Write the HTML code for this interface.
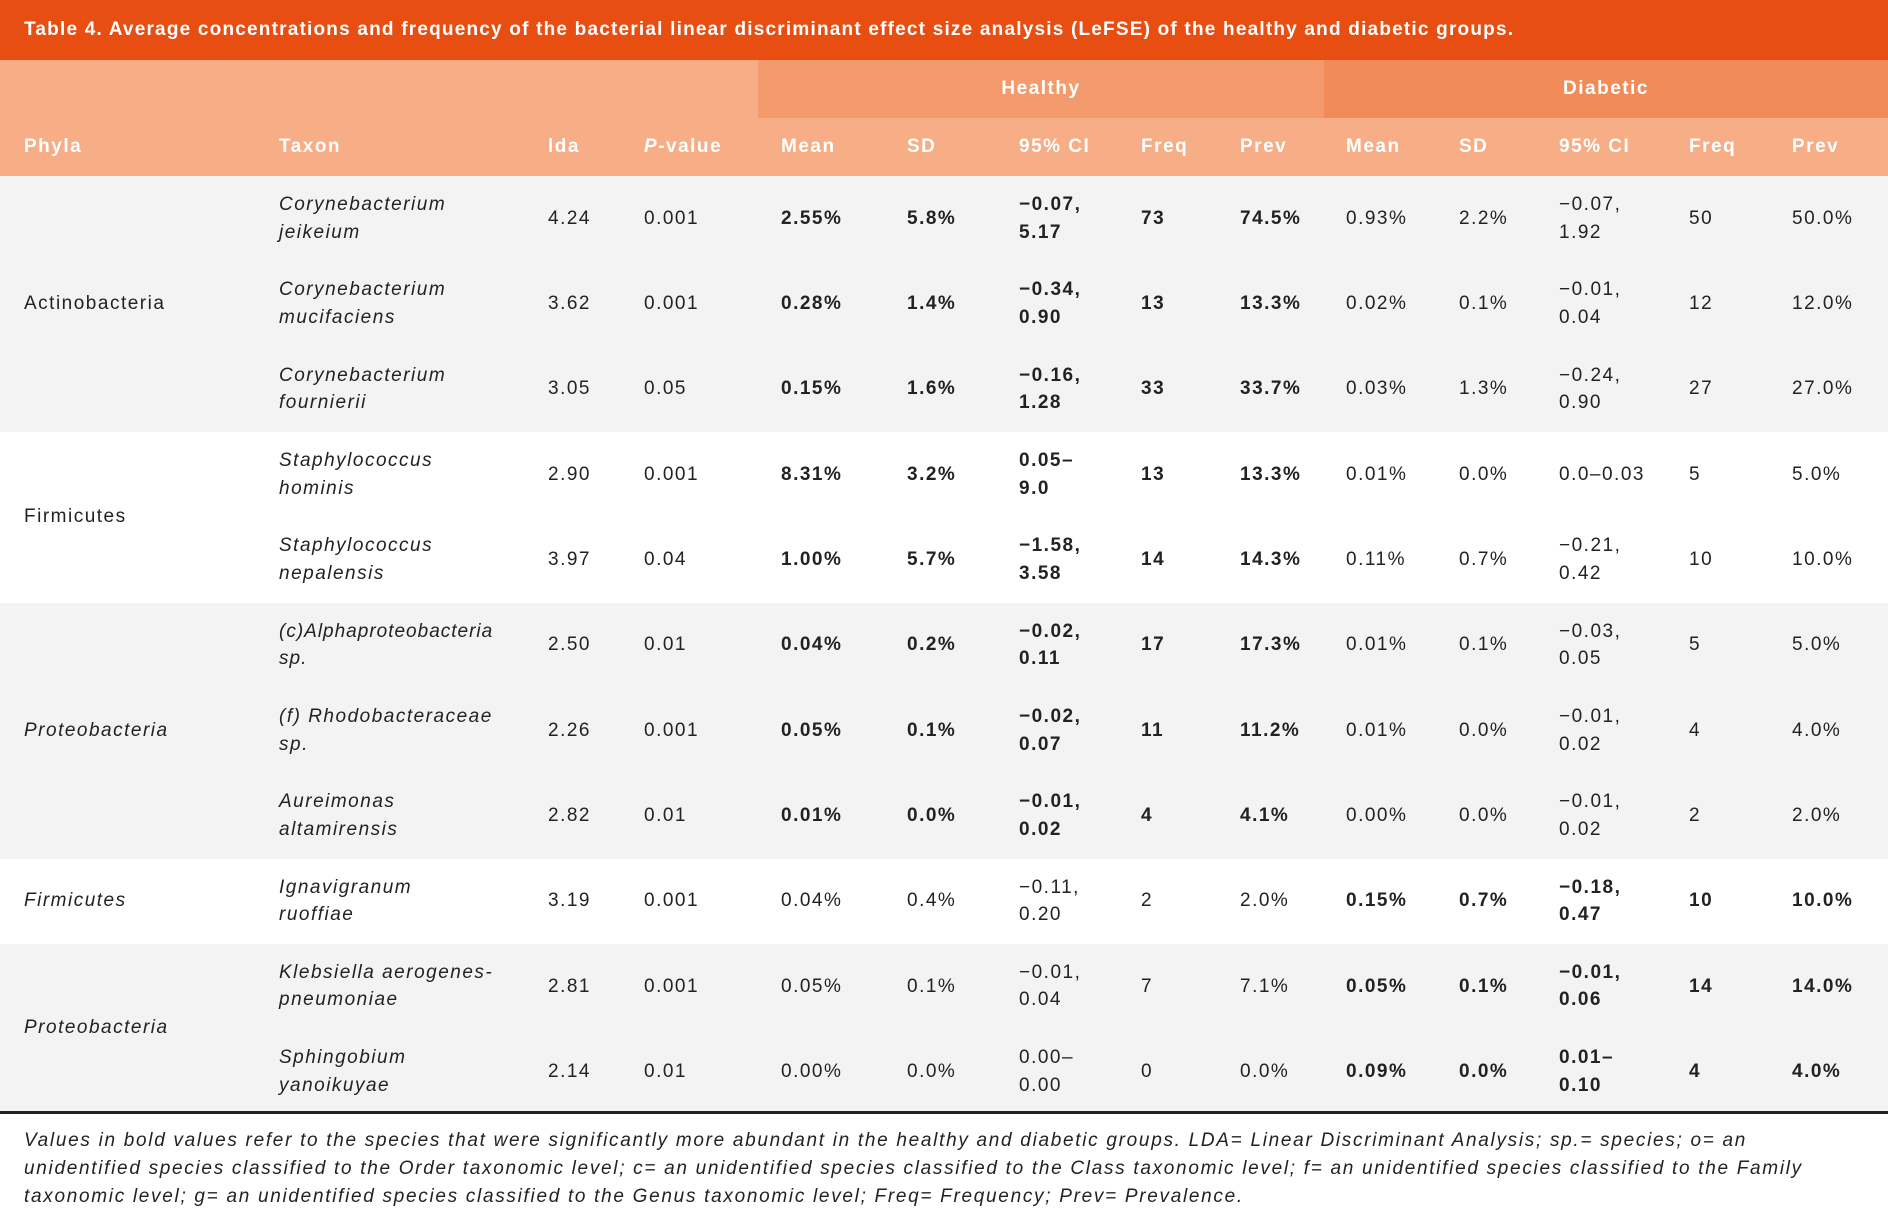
<!DOCTYPE html>
<html><head><meta charset="utf-8"><style>
*{margin:0;padding:0;box-sizing:border-box}
body{width:1888px;height:1232px;background:#fff;position:relative;overflow:hidden;font-family:"Liberation Sans",sans-serif;color:#222}
.title{position:absolute;left:0;top:0;width:1888px;height:60px;background:#e84e12;color:#fff;font-weight:bold;font-size:19px;line-height:60px;padding-left:24px;letter-spacing:1.2px;white-space:nowrap}
.h1{position:absolute;top:60px;height:116px;left:0;width:1888px;background:#f7ad85}
.hh{position:absolute;top:60px;height:58px;left:758px;width:566px;background:#f39b6c;color:#fff;font-size:19px;font-weight:bold;text-align:center;line-height:58px;letter-spacing:1.5px}
.hd{position:absolute;top:60px;height:58px;left:1324px;width:564px;background:#f18c58;color:#fff;font-size:19px;font-weight:bold;text-align:center;line-height:58px;letter-spacing:1.5px}
.hrow{position:absolute;top:118px;height:58px;left:0;width:1888px}
.hrow span{position:absolute;top:0;line-height:58px;color:#fff;font-size:19px;font-weight:bold;letter-spacing:1.5px}
.row{position:absolute;left:0;width:1888px;height:85.3px}
.c{position:absolute;top:0;height:100%;display:flex;align-items:center;font-size:19px;line-height:27.5px;letter-spacing:1.5px;white-space:nowrap}
.g{background:#f3f3f3}
.b{font-weight:bold}
.i{font-style:italic}
.ph{position:absolute;left:24px;font-size:19px;display:flex;align-items:center;letter-spacing:1.5px}
.line{position:absolute;left:0;top:1111px;width:1888px;height:3px;background:#222}
.foot{position:absolute;left:24px;top:1127px;width:1860px;font-style:italic;font-size:19px;line-height:28px;color:#222;letter-spacing:1.7px;white-space:nowrap}
</style></head><body>
<div class="title">Table 4. Average concentrations and frequency of the bacterial linear discriminant effect size analysis (LeFSE) of the healthy and diabetic groups.</div>
<div class="h1"></div>
<div class="hh">Healthy</div>
<div class="hd">Diabetic</div>
<div class="hrow">
<span style="left:24px">Phyla</span><span style="left:279px">Taxon</span><span style="left:548px">lda</span><span style="left:644px"><i>P</i>-value</span>
<span style="left:781px">Mean</span><span style="left:907px">SD</span><span style="left:1019px">95% CI</span><span style="left:1141px">Freq</span><span style="left:1240px">Prev</span>
<span style="left:1346px">Mean</span><span style="left:1459px">SD</span><span style="left:1559px">95% CI</span><span style="left:1689px">Freq</span><span style="left:1792px">Prev</span>
</div>

<div class="g" style="position:absolute;left:0;top:176px;width:1888px;height:256px"></div>
<div class="g" style="position:absolute;left:0;top:602.5px;width:1888px;height:256px"></div>
<div class="g" style="position:absolute;left:0;top:944px;width:1888px;height:167px"></div>

<div class="ph" style="top:176px;height:256px">Actinobacteria</div>
<div class="ph" style="top:432px;height:170.5px">Firmicutes</div>
<div class="ph i" style="top:602.5px;height:256px">Proteobacteria</div>
<div class="ph i" style="top:858.5px;height:85.3px">Firmicutes</div>
<div class="ph i" style="top:944px;height:167px">Proteobacteria</div>

<div class="row" style="top:176px">
<div class="c i" style="left:279px">Corynebacterium<br>jeikeium</div><div class="c" style="left:548px">4.24</div><div class="c" style="left:644px">0.001</div>
<div class="c b" style="left:781px">2.55%</div><div class="c b" style="left:907px">5.8%</div><div class="c b" style="left:1019px">−0.07,<br>5.17</div><div class="c b" style="left:1141px">73</div><div class="c b" style="left:1240px">74.5%</div>
<div class="c" style="left:1346px">0.93%</div><div class="c" style="left:1459px">2.2%</div><div class="c" style="left:1559px">−0.07,<br>1.92</div><div class="c" style="left:1689px">50</div><div class="c" style="left:1792px">50.0%</div></div>

<div class="row" style="top:261.3px">
<div class="c i" style="left:279px">Corynebacterium<br>mucifaciens</div><div class="c" style="left:548px">3.62</div><div class="c" style="left:644px">0.001</div>
<div class="c b" style="left:781px">0.28%</div><div class="c b" style="left:907px">1.4%</div><div class="c b" style="left:1019px">−0.34,<br>0.90</div><div class="c b" style="left:1141px">13</div><div class="c b" style="left:1240px">13.3%</div>
<div class="c" style="left:1346px">0.02%</div><div class="c" style="left:1459px">0.1%</div><div class="c" style="left:1559px">−0.01,<br>0.04</div><div class="c" style="left:1689px">12</div><div class="c" style="left:1792px">12.0%</div></div>

<div class="row" style="top:346.6px">
<div class="c i" style="left:279px">Corynebacterium<br>fournierii</div><div class="c" style="left:548px">3.05</div><div class="c" style="left:644px">0.05</div>
<div class="c b" style="left:781px">0.15%</div><div class="c b" style="left:907px">1.6%</div><div class="c b" style="left:1019px">−0.16,<br>1.28</div><div class="c b" style="left:1141px">33</div><div class="c b" style="left:1240px">33.7%</div>
<div class="c" style="left:1346px">0.03%</div><div class="c" style="left:1459px">1.3%</div><div class="c" style="left:1559px">−0.24,<br>0.90</div><div class="c" style="left:1689px">27</div><div class="c" style="left:1792px">27.0%</div></div>

<div class="row" style="top:432px">
<div class="c i" style="left:279px">Staphylococcus<br>hominis</div><div class="c" style="left:548px">2.90</div><div class="c" style="left:644px">0.001</div>
<div class="c b" style="left:781px">8.31%</div><div class="c b" style="left:907px">3.2%</div><div class="c b" style="left:1019px">0.05–<br>9.0</div><div class="c b" style="left:1141px">13</div><div class="c b" style="left:1240px">13.3%</div>
<div class="c" style="left:1346px">0.01%</div><div class="c" style="left:1459px">0.0%</div><div class="c" style="left:1559px">0.0–0.03</div><div class="c" style="left:1689px">5</div><div class="c" style="left:1792px">5.0%</div></div>

<div class="row" style="top:517.3px">
<div class="c i" style="left:279px">Staphylococcus<br>nepalensis</div><div class="c" style="left:548px">3.97</div><div class="c" style="left:644px">0.04</div>
<div class="c b" style="left:781px">1.00%</div><div class="c b" style="left:907px">5.7%</div><div class="c b" style="left:1019px">−1.58,<br>3.58</div><div class="c b" style="left:1141px">14</div><div class="c b" style="left:1240px">14.3%</div>
<div class="c" style="left:1346px">0.11%</div><div class="c" style="left:1459px">0.7%</div><div class="c" style="left:1559px">−0.21,<br>0.42</div><div class="c" style="left:1689px">10</div><div class="c" style="left:1792px">10.0%</div></div>

<div class="row" style="top:602.6px">
<div class="c i" style="left:279px;letter-spacing:1px">(c)Alphaproteobacteria<br>sp.</div><div class="c" style="left:548px">2.50</div><div class="c" style="left:644px">0.01</div>
<div class="c b" style="left:781px">0.04%</div><div class="c b" style="left:907px">0.2%</div><div class="c b" style="left:1019px">−0.02,<br>0.11</div><div class="c b" style="left:1141px">17</div><div class="c b" style="left:1240px">17.3%</div>
<div class="c" style="left:1346px">0.01%</div><div class="c" style="left:1459px">0.1%</div><div class="c" style="left:1559px">−0.03,<br>0.05</div><div class="c" style="left:1689px">5</div><div class="c" style="left:1792px">5.0%</div></div>

<div class="row" style="top:687.9px">
<div class="c i" style="left:279px">(f) Rhodobacteraceae<br>sp.</div><div class="c" style="left:548px">2.26</div><div class="c" style="left:644px">0.001</div>
<div class="c b" style="left:781px">0.05%</div><div class="c b" style="left:907px">0.1%</div><div class="c b" style="left:1019px">−0.02,<br>0.07</div><div class="c b" style="left:1141px">11</div><div class="c b" style="left:1240px">11.2%</div>
<div class="c" style="left:1346px">0.01%</div><div class="c" style="left:1459px">0.0%</div><div class="c" style="left:1559px">−0.01,<br>0.02</div><div class="c" style="left:1689px">4</div><div class="c" style="left:1792px">4.0%</div></div>

<div class="row" style="top:773.2px">
<div class="c i" style="left:279px">Aureimonas<br>altamirensis</div><div class="c" style="left:548px">2.82</div><div class="c" style="left:644px">0.01</div>
<div class="c b" style="left:781px">0.01%</div><div class="c b" style="left:907px">0.0%</div><div class="c b" style="left:1019px">−0.01,<br>0.02</div><div class="c b" style="left:1141px">4</div><div class="c b" style="left:1240px">4.1%</div>
<div class="c" style="left:1346px">0.00%</div><div class="c" style="left:1459px">0.0%</div><div class="c" style="left:1559px">−0.01,<br>0.02</div><div class="c" style="left:1689px">2</div><div class="c" style="left:1792px">2.0%</div></div>

<div class="row" style="top:858.5px">
<div class="c i" style="left:279px">Ignavigranum<br>ruoffiae</div><div class="c" style="left:548px">3.19</div><div class="c" style="left:644px">0.001</div>
<div class="c" style="left:781px">0.04%</div><div class="c" style="left:907px">0.4%</div><div class="c" style="left:1019px">−0.11,<br>0.20</div><div class="c" style="left:1141px">2</div><div class="c" style="left:1240px">2.0%</div>
<div class="c b" style="left:1346px">0.15%</div><div class="c b" style="left:1459px">0.7%</div><div class="c b" style="left:1559px">−0.18,<br>0.47</div><div class="c b" style="left:1689px">10</div><div class="c b" style="left:1792px">10.0%</div></div>

<div class="row" style="top:943.8px">
<div class="c i" style="left:279px">Klebsiella aerogenes-<br>pneumoniae</div><div class="c" style="left:548px">2.81</div><div class="c" style="left:644px">0.001</div>
<div class="c" style="left:781px">0.05%</div><div class="c" style="left:907px">0.1%</div><div class="c" style="left:1019px">−0.01,<br>0.04</div><div class="c" style="left:1141px">7</div><div class="c" style="left:1240px">7.1%</div>
<div class="c b" style="left:1346px">0.05%</div><div class="c b" style="left:1459px">0.1%</div><div class="c b" style="left:1559px">−0.01,<br>0.06</div><div class="c b" style="left:1689px">14</div><div class="c b" style="left:1792px">14.0%</div></div>

<div class="row" style="top:1029.1px">
<div class="c i" style="left:279px">Sphingobium<br>yanoikuyae</div><div class="c" style="left:548px">2.14</div><div class="c" style="left:644px">0.01</div>
<div class="c" style="left:781px">0.00%</div><div class="c" style="left:907px">0.0%</div><div class="c" style="left:1019px">0.00–<br>0.00</div><div class="c" style="left:1141px">0</div><div class="c" style="left:1240px">0.0%</div>
<div class="c b" style="left:1346px">0.09%</div><div class="c b" style="left:1459px">0.0%</div><div class="c b" style="left:1559px">0.01–<br>0.10</div><div class="c b" style="left:1689px">4</div><div class="c b" style="left:1792px">4.0%</div></div>

<div class="line"></div>
<div class="foot">Values in bold values refer to the species that were significantly more abundant in the healthy and diabetic groups. LDA= Linear Discriminant Analysis; sp.= species; o= an<br>unidentified species classified to the Order taxonomic level; c= an unidentified species classified to the Class taxonomic level; f= an unidentified species classified to the Family<br>taxonomic level; g= an unidentified species classified to the Genus taxonomic level; Freq= Frequency; Prev= Prevalence.</div>
</body></html>
